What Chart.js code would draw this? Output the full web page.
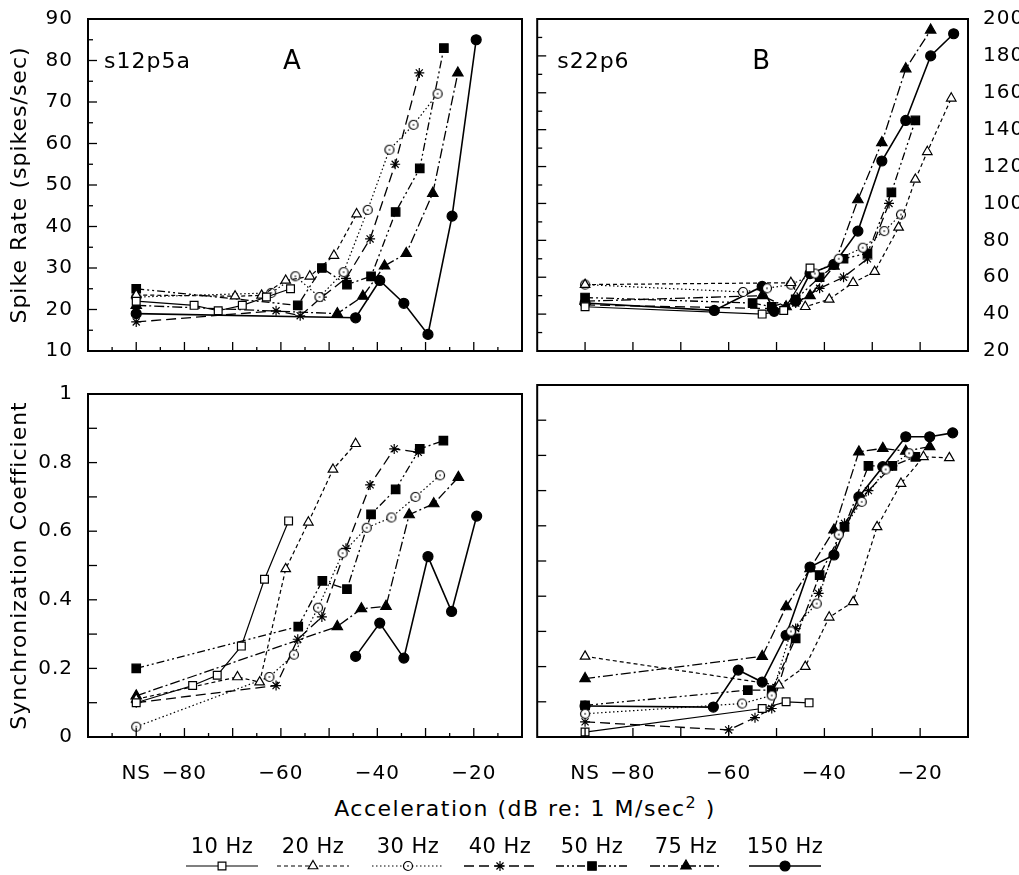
<!DOCTYPE html>
<html>
<head>
<meta charset="utf-8">
<script src="https://cdn.jsdelivr.net/npm/chart.js@4.4.1/dist/chart.umd.min.js"></script>
<style>
  body { margin:0; background:#fff; width:1019px; height:875px; overflow:hidden; position:relative; font-family:"DejaVu Sans", sans-serif; color:#000; }
  canvas { position:absolute; }
  #xtitle { position:absolute; left:0; width:1050px; top:793px; text-align:center; font-size:22px; letter-spacing:1.5px; }
  #xtitle sup { font-size:16px; }
  .lg { position:absolute; top:834px; font-size:21px; width:110px; text-align:center; letter-spacing:0.5px; }
</style>
</head>
<body>
<canvas id="cA" width="530" height="370" style="left:0;top:0"></canvas>
<canvas id="cB" width="489" height="370" style="left:530px;top:0"></canvas>
<canvas id="cC" width="530" height="415" style="left:0;top:375px"></canvas>
<canvas id="cD" width="489" height="415" style="left:530px;top:375px"></canvas>
<canvas id="cL" width="1019" height="40" style="left:0;top:845px"></canvas>
<div id="xtitle">Acceleration (dB re: 1 M/sec<sup>2</sup> )</div>
<div id="legend"></div>
<script>
// series names
const freqs = ['10 Hz', '20 Hz', '30 Hz', '40 Hz', '50 Hz', '75 Hz', '150 Hz'];

// A: spike rate, s12p5a  [dB, spikes/sec]
const a10  = [[-90,22],[-78,21],[-73,19.7],[-68,21],[-63,23],[-58,25]];
const a20  = [[-90,23.5],[-69.5,23.2],[-64,23.4],[-59,27],[-54,28],[-49,33],[-44.3,43]];
const a30  = [[-90,23],[-62,24],[-57,28],[-52,23],[-47,29],[-42,44],[-37.5,58.5],[-32.5,64.5],[-27.5,72]];
const a40  = [[-90,17],[-61,19.7],[-56,18.5],[-51.5,23],[-46.5,27.5],[-41.5,37],[-36.3,55],[-31.3,77]];
const a50  = [[-90,25],[-56.5,21],[-51.5,30],[-46.3,26],[-41.3,28],[-36.2,43.5],[-31.2,54],[-26.2,83]];
const a75  = [[-90,21],[-48.3,19],[-43,23.2],[-38.5,30.5],[-34,33.5],[-28.5,48],[-23.3,77]];
const a150 = [[-90,19],[-44.5,18],[-39.5,27],[-34.5,21.5],[-29.5,14],[-24.5,42.5],[-19.5,85]];

// B: spike rate, s22p6 (right axis)
const b10  = [[-90,44],[-53,40],[-48.5,42],[-43,65]];
const b20  = [[-90,56],[-47,57],[-44,44],[-39,48],[-34,57],[-29.5,63],[-24.5,87],[-21,113],[-18.5,128],[-13.5,157]];
const b30  = [[-90,56],[-57,52],[-52,54],[-47,56],[-42,62],[-37,70],[-32,76],[-27.5,85],[-24,94]];
const b40  = [[-90,45],[-51,43],[-46,46],[-41,54],[-36,60],[-31,70],[-26.5,100]];
const b50  = [[-90,49],[-55,46],[-51,44],[-46,48],[-41,60],[-36,70],[-31,73],[-26,106],[-21,145]];
const b75  = [[-90,47],[-53,50],[-48,44],[-43,50],[-38,66],[-33,102],[-28,133],[-23,173],[-17.8,194]];
const b150 = [[-90,46],[-63,42],[-53,55],[-50.5,41.5],[-46,47],[-43,62],[-38,67],[-33,85],[-28,123],[-23,145],[-17.8,180],[-13,192]];

// C: synchronization, s12p5a
const c10  = [[-90,0.10],[-78.3,0.15],[-73.2,0.18],[-68.2,0.265],[-63.4,0.46],[-58.4,0.63]];
const c20  = [[-90,0.11],[-69,0.175],[-64.4,0.16],[-59,0.49],[-54.3,0.626],[-49.2,0.78],[-44.5,0.855]];
const c30  = [[-90,0.03],[-62.4,0.175],[-57.3,0.24],[-52.3,0.377],[-47.2,0.536],[-42.2,0.61],[-37.1,0.64],[-32.1,0.70],[-27,0.763]];
const c40  = [[-90,0.10],[-61,0.15],[-56.5,0.285],[-51.5,0.35],[-46.5,0.55],[-41.5,0.735],[-36.5,0.84],[-31.5,0.83]];
const c50  = [[-90,0.20],[-56.4,0.322],[-51.4,0.455],[-46.3,0.431],[-41.3,0.649],[-36.2,0.722],[-31.2,0.84],[-26.3,0.864]];
const c75  = [[-90,0.12],[-48.3,0.322],[-43.3,0.374],[-38.2,0.381],[-33.4,0.648],[-28.3,0.68],[-23.2,0.757]];
const c150 = [[-44.5,0.235],[-39.5,0.332],[-34.5,0.23],[-29.5,0.526],[-24.6,0.366],[-19.4,0.644]];

// D: synchronization, s22p6
const d10  = [[-90,0.014],[-53,0.081],[-48,0.1],[-43.2,0.097]];
const d20  = [[-90,0.229],[-49.5,0.147],[-44,0.2],[-39,0.34],[-34,0.384],[-29,0.597],[-24,0.72],[-19.3,0.796],[-13.9,0.793]];
const d30  = [[-90,0.066],[-57.2,0.095],[-51,0.118],[-47,0.3],[-41.6,0.379],[-37,0.575],[-32.2,0.668],[-27.2,0.76],[-22.3,0.806]];
const d40  = [[-90,0.043],[-60,0.02],[-54.5,0.055],[-51,0.081],[-46,0.308],[-41.2,0.408],[-35.8,0.607],[-30.8,0.70],[-25.8,0.77]];
const d50  = [[-90,0.09],[-56,0.133],[-51,0.133],[-46,0.28],[-41,0.46],[-35.8,0.597],[-30.8,0.77],[-25.8,0.77],[-21,0.796]];
const d75  = [[-90,0.166],[-53,0.229],[-48,0.37],[-43,0.478],[-38,0.588],[-32.8,0.81],[-27.8,0.82],[-23,0.812],[-18,0.825]];
const d150 = [[-90,0.088],[-63.2,0.085],[-58,0.19],[-53,0.156],[-48,0.289],[-43,0.483],[-38,0.517],[-32.8,0.682],[-27.8,0.768],[-23,0.853],[-18,0.853],[-13.2,0.864]];

// axis ticks
const xMajor = [-90,-80,-70,-60,-50,-40,-30,-20];
const xMinor = [-95,-85,-75,-65,-55,-45,-35,-25,-15];
const xLabels = [-90,-80,-60,-40,-20];
const rateMajor = [20,30,40,50,60,70,80];
const rateMinor = [15,25,35,45,55,65,75,85];
const rateBMajor = [40,60,80,100,120,140,160,180];
const rateBMinor = [30,50,70,90,110,130,150,170,190];
const syncTicks = [0.1,0.2,0.3,0.4,0.5,0.6,0.7,0.8,0.9];

function dotCircle() {
  const c = document.createElement('canvas');
  c.width = c.height = 12;
  const g = c.getContext('2d');
  g.fillStyle = '#fff'; g.strokeStyle = '#000'; g.lineWidth = 1.2;
  g.beginPath(); g.arc(6, 6, 4.5, 0, Math.PI * 2); g.fill(); g.stroke();
  g.fillStyle = '#000'; g.fillRect(5.3, 5.3, 1.4, 1.4);
  return c;
}
const ringDot = dotCircle();

const looks = [
  { dash: [],               w: 1.2, pt: 'rect',     r: 5.5, fill: '#fff' },
  { dash: [4, 3],           w: 1.2, pt: 'triangle', r: 5.5, fill: '#fff' },
  { dash: [1.5, 2.5],       w: 1.2, pt: ringDot,    r: 5,   fill: '#fff' },
  { dash: [10, 5],          w: 1.3, pt: 'star',     r: 5,   fill: '#000' },
  { dash: [8, 3, 2, 3, 2, 3], w: 1.3, pt: 'rect',   r: 6,   fill: '#000' },
  { dash: [10, 3, 2, 3],    w: 1.3, pt: 'triangle', r: 6,   fill: '#000' },
  { dash: [],               w: 1.6, pt: 'circle',   r: 5,   fill: '#000' }
];

function makeSets(series) {
  return series.map((s, i) => ({
    label: freqs[i],
    data: s.map(p => ({ x: p[0], y: p[1] })),
    borderColor: '#000',
    borderWidth: looks[i].w,
    borderDash: looks[i].dash,
    pointStyle: looks[i].pt,
    pointRadius: looks[i].r,
    pointBackgroundColor: looks[i].fill,
    pointBorderColor: '#000',
    pointBorderWidth: 1.2,
    fill: false,
    tension: 0
  }));
}

// wider lettering like the original typeface
const spacing = {
  id: 'spacing',
  beforeDraw(chart) { chart.ctx.letterSpacing = '1px'; }
};

// inward ticks, frame and panel notes
const frame = {
  id: 'frame',
  afterDraw(chart, args, o) {
    const { ctx, chartArea: ca, scales } = chart;
    const x = scales.x, y = scales.y;
    ctx.save();
    ctx.strokeStyle = '#000';
    const seg = (x1, y1, x2, y2) => { ctx.beginPath(); ctx.moveTo(x1, y1); ctx.lineTo(x2, y2); ctx.stroke(); };
    ctx.lineWidth = 1.3;
    (o.xMajor || []).forEach(v => { const p = x.getPixelForValue(v); seg(p, ca.bottom, p, ca.bottom - 9); });
    (o.xMinor || []).forEach(v => { const p = x.getPixelForValue(v); seg(p, ca.bottom, p, ca.bottom - 4); });
    (o.yMajor || []).forEach(v => { const p = y.getPixelForValue(v); seg(ca.left, p, ca.left + 9, p); });
    (o.yMinor || []).forEach(v => { const p = y.getPixelForValue(v); seg(ca.left, p, ca.left + 5, p); });
    ctx.lineWidth = 2;
    ctx.strokeRect(ca.left, ca.top, ca.right - ca.left, ca.bottom - ca.top);
    ctx.fillStyle = '#000';
    ctx.textBaseline = 'middle';
    (o.notes || []).forEach(n => {
      ctx.font = n.size + 'px "DejaVu Sans"';
      ctx.fillText(n.text, ca.left + n.dx, ca.top + n.dy);
    });
    ctx.restore();
  }
};

const tickFont = { family: 'DejaVu Sans', size: 20 };

function xAxis(bottom) {
  const ax = {
    type: 'linear', min: -100, max: -10,
    grid: { display: false }, border: { display: false },
    afterFit(s) { s.height = bottom ? 53 : 8; }
  };
  if (bottom) {
    ax.afterBuildTicks = s => { s.ticks = xLabels.map(v => ({ value: v })); };
    ax.ticks = { font: tickFont, color: '#000', padding: 17, maxRotation: 0, autoSkip: false,
      callback: v => v === -90 ? 'NS' : '\u2212' + Math.abs(v) };
  } else {
    ax.ticks = { display: false };
  }
  return ax;
}

function build(id, series, cfg) {
  return new Chart(document.getElementById(id), {
    type: 'line',
    data: { datasets: makeSets(series) },
    options: {
      responsive: false, animation: false,
      layout: { padding: cfg.pad },
      plugins: { legend: { display: false }, tooltip: { enabled: false }, frame: cfg.frame },
      scales: { x: xAxis(cfg.bottom), y: cfg.y }
    },
    plugins: [spacing, frame]
  });
}

build('cA', [a10, a20, a30, a40, a50, a75, a150], {
  bottom: false,
  pad: { top: 18, right: 8, left: 0, bottom: 0 },
  y: {
    min: 10, max: 90,
    ticks: { stepSize: 10, font: tickFont, color: '#000', padding: 7 },
    grid: { display: false }, border: { display: false },
    title: { display: true, text: 'Spike Rate (spikes/sec)', font: { family: 'DejaVu Sans', size: 22 }, color: '#000', padding: { top: 7, bottom: 0 } },
    afterFit(s) { s.width = 88; }
  },
  frame: { xMajor, xMinor, yMajor: rateMajor, yMinor: rateMinor,
    notes: [{ text: 's12p5a', size: 22, dx: 16, dy: 43 }, { text: 'A', size: 26, dx: 195, dy: 43 }] }
});

build('cB', [b10, b20, b30, b40, b50, b75, b150], {
  bottom: false,
  pad: { top: 18, right: 0, left: 6, bottom: 0 },
  y: {
    position: 'right', min: 20, max: 200,
    ticks: { stepSize: 20, font: tickFont, color: '#000', padding: 7 },
    grid: { display: false }, border: { display: false },
    afterFit(s) { s.width = 51; }
  },
  frame: { xMajor, yMajor: rateBMajor, yMinor: rateBMinor,
    notes: [{ text: 's22p6', size: 22, dx: 20, dy: 43 }, { text: 'B', size: 26, dx: 215, dy: 43 }] }
});

build('cC', [c10, c20, c30, c40, c50, c75, c150], {
  bottom: true,
  pad: { top: 10, right: 8, left: 0, bottom: 0 },
  y: {
    min: 0, max: 1,
    ticks: { stepSize: 0.2, font: tickFont, color: '#000', padding: 7,
      callback: v => (v === 0 || v === 1) ? String(v) : v.toFixed(1) },
    grid: { display: false }, border: { display: false },
    title: { display: true, text: 'Synchronization Coefficient', font: { family: 'DejaVu Sans', size: 22 }, color: '#000', padding: { top: 7, bottom: 0 } },
    afterFit(s) { s.width = 88; }
  },
  frame: { xMajor, xMinor, yMajor: syncTicks }
});

build('cD', [d10, d20, d30, d40, d50, d75, d150], {
  bottom: true,
  pad: { top: 10, right: 51, left: 6, bottom: 0 },
  y: { min: 0, max: 1, display: false },
  frame: { xMajor, yMajor: syncTicks }
});

// legend: label above a short line sample
const legendX = [222, 313, 408, 500, 592, 686, 785];
const lg = document.getElementById('legend');
freqs.forEach((f, i) => {
  const d = document.createElement('div');
  d.className = 'lg';
  d.style.left = (legendX[i] - 55) + 'px';
  d.textContent = f;
  lg.appendChild(d);
});
const lc = document.getElementById('cL').getContext('2d');
freqs.forEach((f, i) => {
  const L = looks[i], cx = legendX[i], cy = 21;
  lc.save();
  lc.strokeStyle = '#000'; lc.lineWidth = L.w; lc.setLineDash(L.dash);
  lc.beginPath(); lc.moveTo(cx - 36, cy); lc.lineTo(cx + 36, cy); lc.stroke();
  lc.setLineDash([]);
  lc.fillStyle = L.fill; lc.lineWidth = 1.2;
  Chart.helpers.drawPoint(lc, { pointStyle: L.pt, radius: L.r, borderWidth: 1.2 }, cx, cy);
  lc.restore();
});
</script>
</body>
</html>
